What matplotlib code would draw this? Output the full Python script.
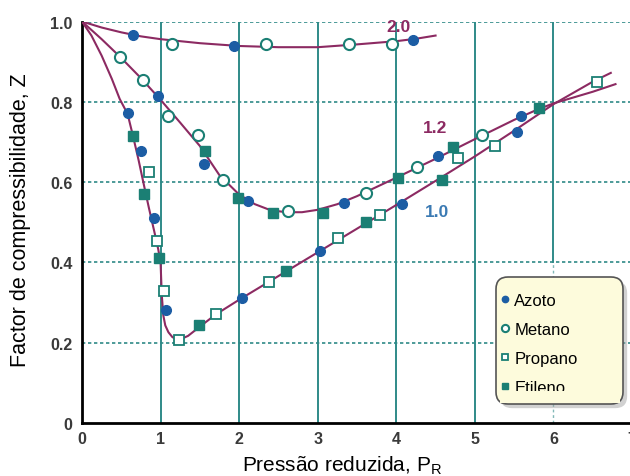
import matplotlib.pyplot as plt
from matplotlib.patches import FancyBboxPatch, Rectangle, Shadow
from matplotlib.transforms import IdentityTransform

plt.rcParams['font.family'] = ['Liberation Sans', 'DejaVu Sans']

# isotherm curves (reduced temperature 2.0, 1.2, 1.0)
tr20_x = [0, 0.25, 0.5, 0.75, 1.0, 1.5, 2.0, 2.5, 3.0, 3.5, 4.0, 4.25, 4.5]
tr20_y = [1.0, 0.985, 0.973, 0.963, 0.956, 0.946, 0.939, 0.936, 0.936, 0.943, 0.951, 0.957, 0.965]

tr12_x = [0, 0.25, 0.5, 0.75, 1.0, 1.25, 1.5, 1.75, 2.0, 2.2, 2.4, 2.6, 2.8, 3.0, 3.25, 3.5,
          3.75, 4.0, 4.5, 5.0, 5.5, 5.8, 6.0, 6.5, 6.79]
tr12_y = [1.0, 0.956, 0.909, 0.859, 0.805, 0.748, 0.690, 0.617, 0.569, 0.545, 0.530, 0.525, 0.525,
          0.531, 0.545, 0.565, 0.588, 0.611, 0.658, 0.707, 0.755, 0.781, 0.796, 0.825, 0.844]

tr10_x = [0, 0.12, 0.25, 0.38, 0.48, 0.58, 0.65, 0.72, 0.78, 0.85, 0.92, 0.97, 1.0, 1.015, 1.035,
          1.06, 1.1, 1.15, 1.2, 1.27, 1.35, 1.5, 1.7, 2.0, 2.5, 3.0, 3.5, 4.0, 4.5, 5.0, 5.5,
          6.0, 6.5, 6.73]
tr10_y = [1.0, 0.965, 0.915, 0.857, 0.807, 0.770, 0.714, 0.655, 0.600, 0.537, 0.477, 0.433, 0.400,
          0.320, 0.268, 0.243, 0.226, 0.214, 0.209, 0.210, 0.217, 0.240, 0.270, 0.307, 0.366,
          0.425, 0.484, 0.543, 0.603, 0.664, 0.728, 0.794, 0.850, 0.872]

# measured points per gas
azoto_x = [0.65, 1.94, 4.21, 0.97, 1.55, 2.11, 3.33, 4.53, 5.59,
           0.58, 0.75, 0.91, 1.07, 2.04, 3.03, 4.07, 5.53]
azoto_y = [0.966, 0.940, 0.955, 0.815, 0.644, 0.553, 0.549, 0.666, 0.764,
           0.772, 0.677, 0.511, 0.281, 0.311, 0.428, 0.545, 0.726]

metano_x = [1.14, 2.34, 3.40, 3.95, 0.48, 0.77, 1.10, 1.47, 1.79, 2.62, 3.61, 4.26, 5.09]
metano_y = [0.944, 0.944, 0.944, 0.944, 0.911, 0.854, 0.764, 0.718, 0.605, 0.527, 0.574, 0.637, 0.718]

propano_x = [0.85, 0.95, 1.04, 1.24, 1.71, 2.38, 3.26, 3.79, 4.78, 5.25, 6.55]
propano_y = [0.626, 0.454, 0.329, 0.207, 0.271, 0.350, 0.461, 0.519, 0.659, 0.690, 0.849]

etileno_x = [1.565, 1.98, 2.43, 3.07, 4.02, 4.72, 5.81, 0.653, 0.79, 0.984, 1.49, 2.60, 3.61, 4.58]
etileno_y = [0.678, 0.560, 0.522, 0.522, 0.609, 0.687, 0.785, 0.714, 0.570, 0.410, 0.244, 0.379, 0.500, 0.605]

x_ticks = [0, 1, 2, 3, 4, 5, 6, 7]
y_ticks = [0, 0.2, 0.4, 0.6, 0.8, 1.0]
y_tick_labels = ['0', '0.2', '0.4', '0.6', '0.8', '1.0']

grid_c = '#2f8a88'
curve_c = '#8c2a62'
blue = '#1c5da4'
teal = '#1b7f74'
legend_bg = '#fdfbdc'

fig = plt.figure(figsize=(6.3, 4.77), dpi=100)
ax = fig.add_axes([82 / 630, 53 / 477, 550 / 630, 401.5 / 477])
ax.set_xlim(0, 7)
ax.set_ylim(0, 1.0)

for yv in y_ticks[1:]:
    ax.axhline(yv, color=grid_c, lw=1.2, ls=(0, (2, 1.6)), zorder=1)
for xv in x_ticks[1:6]:
    ax.axvline(xv, color=grid_c, lw=1.4, zorder=1.5)
ax.axvline(6, ymin=0.4, color=grid_c, lw=1.4, zorder=1.5)
ax.axvline(6, ymax=0.4, color=grid_c, lw=1.0, ls=(0, (2, 2)), alpha=0.6, zorder=1.5)

for cx, cy in [(tr20_x, tr20_y), (tr12_x, tr12_y), (tr10_x, tr10_y)]:
    ax.plot(cx, cy, color=curve_c, lw=1.5, zorder=3)

ax.plot(azoto_x, azoto_y, 'o', ms=7, color=blue, ls='none', label='Azoto', zorder=4)
ax.plot(metano_x, metano_y, 'o', ms=8, mfc='white', mec=teal, mew=1.5, ls='none',
        label='Metano', zorder=4)
ax.plot(propano_x, propano_y, 's', ms=6.5, mfc='white', mec=teal, mew=1.3, ls='none',
        label='Propano', zorder=4)
ax.plot(etileno_x, etileno_y, 's', ms=7, color=teal, ls='none', label='Etileno', zorder=4)

ax.text(4.03, 0.987, '2.0', color=curve_c, fontsize=12.5, fontweight='bold', ha='center', va='center')
ax.text(4.49, 0.737, '1.2', color=curve_c, fontsize=12.5, fontweight='bold', ha='center', va='center')
ax.text(4.52, 0.526, '1.0', color='#3b7ab3', fontsize=12.5, fontweight='bold', ha='center', va='center')

for side in ['top', 'right']:
    ax.spines[side].set_visible(False)
for side in ['left', 'bottom']:
    ax.spines[side].set_linewidth(2)
ax.tick_params(length=0, labelsize=11.5, labelcolor='#3a3a3a')
ax.tick_params(axis='x', pad=6)
ax.tick_params(axis='y', pad=7)
ax.set_xticks(x_ticks)
ax.set_yticks(y_ticks, y_tick_labels)
for lab in ax.get_xticklabels() + ax.get_yticklabels():
    lab.set_fontweight('bold')

fig.text(342 / 630, 1 - 466 / 477, 'Pressão reduzida, P$_\\mathregular{R}$', fontsize=15,
         ha='center', va='center')
fig.text(21 / 630, 1 - 220 / 477, 'Factor de compressibilidade, Z', fontsize=15.5,
         rotation=90, ha='center', va='center')

# legend box (pixel coordinates), drawn by hand to get the wide right margin
box = FancyBboxPatch((496, 72), 127, 127, boxstyle='round,pad=0,rounding_size=12',
                     transform=IdentityTransform(), facecolor=legend_bg, edgecolor='#555555',
                     lw=1.2, clip_on=False, zorder=5.5)
shadow = Shadow(box, 3, -3, facecolor='#9a9a9a', alpha=0.45, edgecolor='none')
shadow.set_clip_on(False)
shadow.set_zorder(5.4)
ax.add_artist(shadow)
ax.add_artist(box)

leg = ax.legend(loc='upper left', bbox_to_anchor=(501 / 630, 1 - 293.5 / 477),
                bbox_transform=fig.transFigure, borderaxespad=0, borderpad=0, frameon=False,
                fontsize=12, markerscale=0.65, handlelength=0.5, handletextpad=0.3,
                labelspacing=0.85)
leg.set_zorder(6)

# the last entry is cut off at its bottom in the original
ax.add_artist(Rectangle((500, 72.5 + 1), 120, 477 - 391 - 74, transform=IdentityTransform(),
                        facecolor=legend_bg, edgecolor='none', clip_on=False, zorder=6.5))

fig.savefig('out.png', dpi=100)
